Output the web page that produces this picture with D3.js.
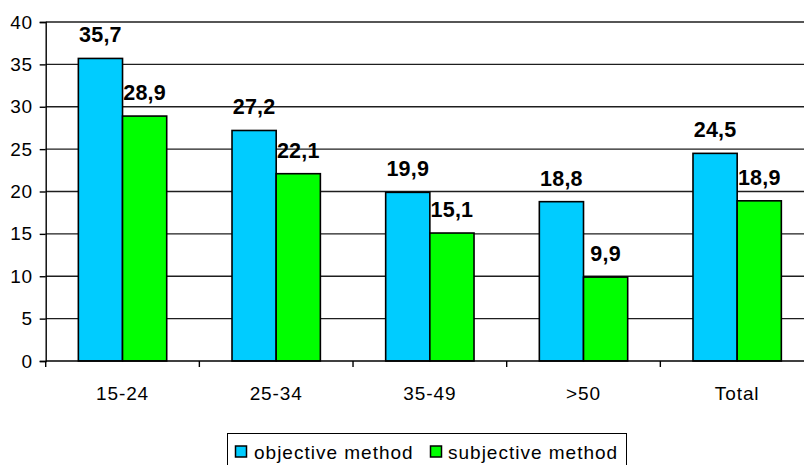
<!DOCTYPE html>
<html>
<head>
<meta charset="utf-8">
<script src="https://cdn.jsdelivr.net/npm/d3@7"></script>
<style>
  html, body { margin: 0; padding: 0; background: #fff; }
  svg { display: block; font-family: "Liberation Sans", Arial, sans-serif; }
</style>
</head>
<body>
<svg id="chart" width="804" height="465"></svg>
<script>
// Age groups and the two estimation methods
const categories = ["15-24", "25-34", "35-49", ">50", "Total"];
const seriesNames = ["objective method", "subjective method"];
const objectiveValues = [35.7, 27.2, 19.9, 18.8, 24.5];
const subjectiveValues = [28.9, 22.1, 15.1, 9.9, 18.9];
const yTicks = [0, 5, 10, 15, 20, 25, 30, 35, 40];
const colors = ["#00CCFF", "#00FF00"];

const svg = d3.select("#chart");

// Plot area runs past the right edge of the canvas
const plot = { left: 45.7, right: 814, top: 22, bottom: 361 };

const x0 = d3.scaleBand().domain(categories).range([plot.left, plot.right]).padding(0);
const y = d3.scaleLinear().domain([0, 40]).range([plot.bottom, plot.top]);

const groupW = x0.bandwidth() * 0.575;
const x1 = d3.scaleBand().domain(seriesNames).range([0, groupW]).padding(0);
const groupOffset = (x0.bandwidth() - groupW) / 2;

// Horizontal gridlines
svg.append("g")
  .selectAll("line")
  .data(yTicks.filter(t => t > 0))
  .join("line")
  .attr("x1", plot.left).attr("x2", 804)
  .attr("y1", d => y(d)).attr("y2", d => y(d))
  .attr("stroke", "#1e1e1e").attr("stroke-width", 1.4);

// Y axis
const yAxis = svg.append("g")
  .attr("transform", `translate(${plot.left},0)`)
  .call(d3.axisLeft(y).tickValues(yTicks).tickSize(6).tickPadding(7).tickFormat(d3.format("d")));
yAxis.select(".domain").attr("stroke", "#000").attr("stroke-width", 1.4);
yAxis.selectAll(".tick line").attr("stroke", "#000").attr("stroke-width", 1.4);
yAxis.selectAll(".tick text")
  .attr("font-size", 19).attr("letter-spacing", 0.6).attr("fill", "#000")
  .attr("font-family", "Liberation Sans, Arial, sans-serif");

// Bars
const data = categories.map((c, i) => ({
  cat: c,
  vals: [
    { name: seriesNames[0], v: objectiveValues[i] },
    { name: seriesNames[1], v: subjectiveValues[i] }
  ]
}));

const groups = svg.append("g")
  .selectAll("g")
  .data(data)
  .join("g")
  .attr("transform", d => `translate(${x0(d.cat) + groupOffset},0)`);

groups.selectAll("rect")
  .data(d => d.vals)
  .join("rect")
  .attr("x", d => x1(d.name))
  .attr("width", x1.bandwidth())
  .attr("y", d => y(d.v))
  .attr("height", d => y(0) - y(d.v))
  .attr("fill", (d, i) => colors[i])
  .attr("stroke", "#000").attr("stroke-width", 1.6);

// Value labels (decimal comma)
const fmt = v => d3.format(".1f")(v).replace(".", ",");
groups.selectAll("text")
  .data(d => d.vals)
  .join("text")
  .attr("x", d => x1(d.name) + x1.bandwidth() / 2)
  .attr("y", d => y(d.v) - 16)
  .attr("text-anchor", "middle")
  .attr("font-size", 21.5).attr("font-weight", "bold").attr("letter-spacing", 0.2)
  .attr("fill", "#000")
  .text(d => fmt(d.v));

// X axis
const xAxis = svg.append("g")
  .attr("transform", `translate(0,${plot.bottom})`)
  .call(d3.axisBottom(x0).tickSize(0).tickPadding(0));
xAxis.select(".domain").remove();
svg.append("line")
  .attr("x1", plot.left).attr("x2", 804)
  .attr("y1", plot.bottom).attr("y2", plot.bottom)
  .attr("stroke", "#000").attr("stroke-width", 1.6);
svg.append("g")
  .selectAll("line")
  .data(categories)
  .join("line")
  .attr("x1", d => x0(d)).attr("x2", d => x0(d))
  .attr("y1", plot.bottom).attr("y2", plot.bottom + 6)
  .attr("stroke", "#000").attr("stroke-width", 1.4);
xAxis.selectAll(".tick text")
  .attr("y", 39)
  .attr("dy", 0)
  .attr("font-size", 19).attr("letter-spacing", 0.9).attr("fill", "#000")
  .attr("font-family", "Liberation Sans, Arial, sans-serif");

// Legend
const legend = svg.append("g");
legend.append("rect")
  .attr("x", 227.5).attr("y", 433.5)
  .attr("width", 399).attr("height", 40)
  .attr("fill", "#fff").attr("stroke", "#000").attr("stroke-width", 1);

const legendItems = [
  { name: seriesNames[0], color: colors[0], mx: 235.5, tx: 254 },
  { name: seriesNames[1], color: colors[1], mx: 430.5, tx: 448 }
];
legendItems.forEach(it => {
  legend.append("rect")
    .attr("x", it.mx).attr("y", 446)
    .attr("width", 11).attr("height", 11)
    .attr("fill", it.color).attr("stroke", "#000").attr("stroke-width", 1.5);
  legend.append("text")
    .attr("x", it.tx).attr("y", 458.5)
    .attr("font-size", 19).attr("letter-spacing", 1.0).attr("fill", "#000")
    .text(it.name);
});
</script>
</body>
</html>
